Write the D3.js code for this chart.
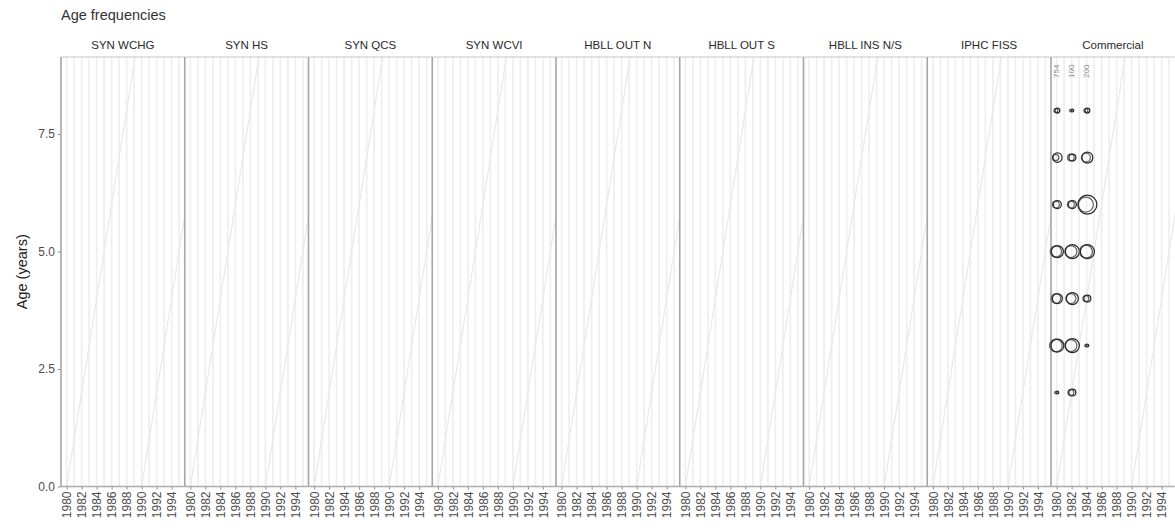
<!DOCTYPE html>
<html>
<head>
<meta charset="utf-8">
<script src="https://cdn.jsdelivr.net/npm/d3@7"></script>
<style>
  body { margin: 0; background: #fff; }
  svg { display: block; font-family: "Liberation Sans", Arial, Helvetica, sans-serif; }
</style>
</head>
<body>
<svg id="chart" width="1175" height="529"></svg>
<script>
// ---------------- data ----------------
const surveys = ["SYN WCHG", "SYN HS", "SYN QCS", "SYN WCVI", "HBLL OUT N", "HBLL OUT S", "HBLL INS N/S", "IPHC FISS", "Commercial"];
const yearTicks = [1980, 1982, 1984, 1986, 1988, 1990, 1992, 1994];
const ageTicks = [0, 2.5, 5, 7.5];
const cohortYears = [1960, 1970, 1980, 1990, 2000];
const commYears = [1980, 1982, 1984];
const ages = [2, 3, 4, 5, 6, 7, 8];
// proportions by age for each year (rows = years, columns = ages)
const femaleProp = [
  [0.02, 0.42, 0.25, 0.36, 0.16, 0.22, 0.06],
  [0.12, 0.49, 0.36, 0.49, 0.16, 0.12, 0.02],
  [0.00, 0.02, 0.12, 0.49, 0.90, 0.30, 0.06]
];
const maleProp = [
  [0.015, 0.40, 0.23, 0.32, 0.12, 0.09, 0.04],
  [0.09, 0.36, 0.25, 0.36, 0.12, 0.11, 0.017],
  [0.00, 0.015, 0.09, 0.42, 0.56, 0.20, 0.04]
];
const countLabels = ["754", "100", "200"];

// ---------------- layout ----------------
const svg = d3.select("#chart");
const panelTop = 57, panelBottom = 486.5;
const panelLeft = 61, panelW = 123.75;
const fx = d3.scaleBand().domain(surveys).range([panelLeft, panelLeft + panelW * surveys.length]).padding(0);
const x = d3.scaleLinear().domain([1979.25, 1995.75]).range([0, fx.bandwidth()]);
const y = d3.scaleLinear().domain([0, 9.14]).range([panelBottom, panelTop]);
const r = d3.scaleSqrt().domain([0, 0.9]).range([0, 9.5]);
const sexGap = 0.2;

// title
svg.append("text").attr("x", 61).attr("y", 20)
  .attr("font-size", 14.5).attr("fill", "#333").text("Age frequencies");

// y-axis title
svg.append("text")
  .attr("transform", `translate(27,${(panelTop + panelBottom) / 2}) rotate(-90)`)
  .attr("text-anchor", "middle").attr("font-size", 14.5).attr("fill", "#222")
  .text("Age (years)");

// y axis
const yAxis = svg.append("g").attr("transform", `translate(${panelLeft},0)`)
  .call(d3.axisLeft(y).tickValues(ageTicks).tickFormat(d3.format(".1f")).tickSize(3).tickPadding(3));
yAxis.select(".domain").remove();
yAxis.selectAll("line").attr("stroke", "#888");
yAxis.selectAll("text").attr("font-size", 12).attr("fill", "#4d4d4d").attr("font-family", "Liberation Sans, Arial, sans-serif");

surveys.forEach(s => {
  const g = svg.append("g").attr("transform", `translate(${fx(s)},0)`);
  const w = fx.bandwidth();
  const clipId = "clip-" + s.replace(/[^A-Za-z]/g, "");
  g.append("clipPath").attr("id", clipId)
    .append("rect").attr("x", 0).attr("y", panelTop).attr("width", w).attr("height", panelBottom - panelTop);

  // vertical grid lines every year
  g.append("g").selectAll("line")
    .data(d3.range(1980, 1996))
    .join("line")
    .attr("x1", d => x(d)).attr("x2", d => x(d))
    .attr("y1", panelTop).attr("y2", panelBottom)
    .attr("stroke", "#efefef").attr("stroke-width", 1.8);

  // cohort diagonal lines
  g.append("g").attr("clip-path", `url(#${clipId})`).selectAll("line")
    .data(cohortYears)
    .join("line")
    .attr("x1", d => x(d)).attr("y1", y(0))
    .attr("x2", d => x(d + 10)).attr("y2", y(10))
    .attr("stroke", "#e9e9e9").attr("stroke-width", 1.2);

  // strip label
  g.append("text").attr("x", w / 2).attr("y", 48.5)
    .attr("text-anchor", "middle").attr("font-size", 11.5).attr("fill", "#2a2a2a").text(s);

  // x axis
  const xa = g.append("g").attr("transform", `translate(0,${panelBottom})`)
    .call(d3.axisBottom(x).tickValues(yearTicks).tickFormat(d3.format("d")).tickSize(3).tickPadding(3));
  xa.select(".domain").remove();
  xa.selectAll("line").attr("stroke", "#888");
  xa.selectAll("text")
    .attr("transform", "rotate(-90)")
    .attr("text-anchor", "end")
    .attr("x", -5).attr("y", 0).attr("dy", "0.35em")
    .attr("font-size", 12).attr("fill", "#4d4d4d")
    .attr("font-family", "Liberation Sans, Arial, sans-serif");

  // panel frame: top, left, bottom
  g.append("line").attr("x1", 0).attr("x2", w).attr("y1", panelTop).attr("y2", panelTop)
    .attr("stroke", "#c8c8c8").attr("stroke-width", 1.2);
  g.append("line").attr("x1", 0).attr("x2", w).attr("y1", panelBottom).attr("y2", panelBottom)
    .attr("stroke", "#aaaaaa").attr("stroke-width", 1.6);
  g.append("line").attr("x1", 0).attr("x2", 0).attr("y1", panelTop).attr("y2", panelBottom)
    .attr("stroke", "#a5a5a5").attr("stroke-width", 1.6);

  if (s === "Commercial") {
    const pts = [];
    commYears.forEach((yr, i) => {
      ages.forEach((a, j) => {
        pts.push({ year: yr, age: a, sex: "M", p: maleProp[i][j] });
        pts.push({ year: yr, age: a, sex: "F", p: femaleProp[i][j] });
      });
    });
    g.append("g").selectAll("circle")
      .data(pts.filter(d => d.p > 0))
      .join("circle")
      .attr("cx", d => x(d.sex === "M" ? d.year - sexGap / 2 : d.year + sexGap / 2))
      .attr("cy", d => y(d.age))
      .attr("r", d => r(d.p))
      .attr("fill", "none")
      .attr("stroke", d => d.sex === "M" ? "#666" : "#2b2b2b")
      .attr("stroke-width", 1.25);

    g.append("g").selectAll("text")
      .data(commYears.map((yr, i) => ({ year: yr, label: countLabels[i] })))
      .join("text")
      .attr("transform", d => `translate(${x(d.year) + 2.5},78) rotate(-90)`)
      .attr("text-anchor", "start")
      .attr("font-size", 8).attr("fill", "#8a8a8a")
      .text(d => d.label);
  }
});
</script>
</body>
</html>
